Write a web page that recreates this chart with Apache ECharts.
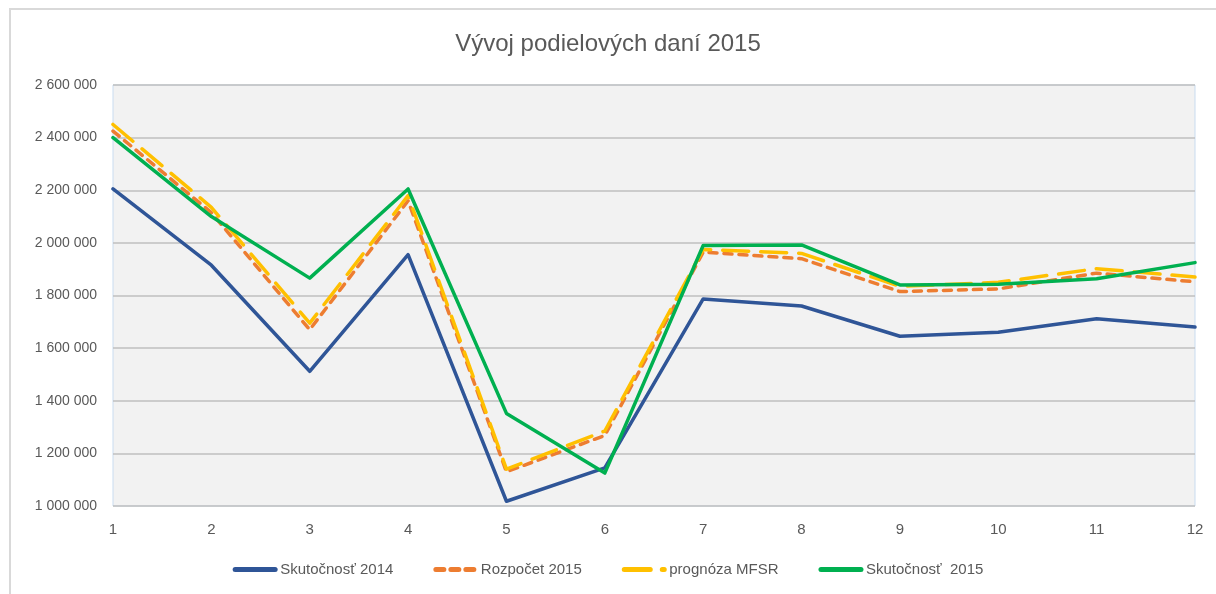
<!DOCTYPE html>
<html>
<head>
<meta charset="utf-8">
<script src="https://cdn.jsdelivr.net/npm/echarts@6/dist/echarts.min.js"></script>
<style>
  html, body { margin: 0; padding: 0; background: #fff; }
  #chart { width: 1216px; height: 594px; }
</style>
</head>
<body>
<div id="chart"></div>
<script>
// mesiace
const months = ['1', '2', '3', '4', '5', '6', '7', '8', '9', '10', '11', '12']

// hodnoty odčítané z grafu
const skutocnost2014 = [2205000, 1915000, 1512000, 1955000, 1018000, 1145000, 1787000, 1760000, 1645000, 1660000, 1712000, 1680000]
const rozpocet2015 = [2425000, 2115000, 1670000, 2160000, 1130000, 1268000, 1965000, 1940000, 1815000, 1825000, 1885000, 1852000]
const prognozaMFSR = [2450000, 2135000, 1695000, 2180000, 1140000, 1285000, 1975000, 1960000, 1835000, 1850000, 1902000, 1870000]
const skutocnost2015 = [2400000, 2100000, 1866000, 2205000, 1352000, 1125000, 1990000, 1992000, 1840000, 1843000, 1864000, 1925000]

const yTicks = { min: 1000000, max: 2600000, step: 200000 }

const fontFamily = 'Liberation Sans, Arial, sans-serif'

// formát s medzerou ako oddeľovačom tisícov
const fmt = (v) => String(v).replace(/\B(?=(\d{3})+(?!\d))/g, ' ')

const myChart = echarts.init(document.getElementById('chart'))

const lineSeries = (name, data, color, type) => ({
    name: name,
    type: 'line',
    data: data,
    showSymbol: false,
    symbol: 'none',
    lineStyle: { color: color, width: 3.5, type: type, cap: 'round', join: 'round' },
    itemStyle: { color: color }
})

const option = {
    backgroundColor: '#ffffff',
    title: {
        text: 'Vývoj podielových daní 2015',
        left: 'center',
        top: 27,
        textStyle: { fontFamily: fontFamily, fontSize: 24, fontWeight: 'normal', color: '#595959' }
    },
    graphic: [
        {
            type: 'rect',
            shape: { x: 10, y: 9, width: 1300, height: 700 },
            style: { fill: 'none', stroke: '#d9d9d9', lineWidth: 2 },
            silent: true
        }
    ],
    grid: {
        left: 113,
        right: 21,
        top: 85,
        bottom: 88,
        show: true,
        backgroundColor: '#f2f2f2',
        borderColor: '#c9dcf0',
        borderWidth: 1
    },
    legend: {
        bottom: 12,
        left: 'center',
        itemWidth: 40,
        itemHeight: 14,
        itemGap: 40,
        itemStyle: { opacity: 0 },
        lineStyle: { width: 5 },
        textStyle: { fontFamily: fontFamily, fontSize: 15, color: '#595959' },
        data: ['Skutočnosť 2014', 'Rozpočet 2015', 'prognóza MFSR', 'Skutočnosť  2015']
    },
    xAxis: {
        type: 'category',
        data: months,
        boundaryGap: false,
        axisLine: { show: false },
        axisTick: { show: false },
        axisLabel: { fontFamily: fontFamily, fontSize: 15, color: '#595959', margin: 16 },
        splitLine: { show: false }
    },
    yAxis: {
        type: 'value',
        min: yTicks.min,
        max: yTicks.max,
        interval: yTicks.step,
        axisLine: { show: false },
        axisTick: { show: false },
        axisLabel: { fontFamily: fontFamily, fontSize: 14, color: '#595959', margin: 16, formatter: fmt },
        splitLine: { lineStyle: { color: '#bfbfbf', width: 1.5 } }
    },
    series: [
        lineSeries('Skutočnosť 2014', skutocnost2014, '#2f5597', 'solid'),
        lineSeries('Rozpočet 2015', rozpocet2015, '#ed7d31', [8, 7]),
        lineSeries('prognóza MFSR', prognozaMFSR, '#ffc000', [26, 12]),
        lineSeries('Skutočnosť  2015', skutocnost2015, '#00b050', 'solid')
    ]
}

myChart.setOption(option)
</script>
</body>
</html>
